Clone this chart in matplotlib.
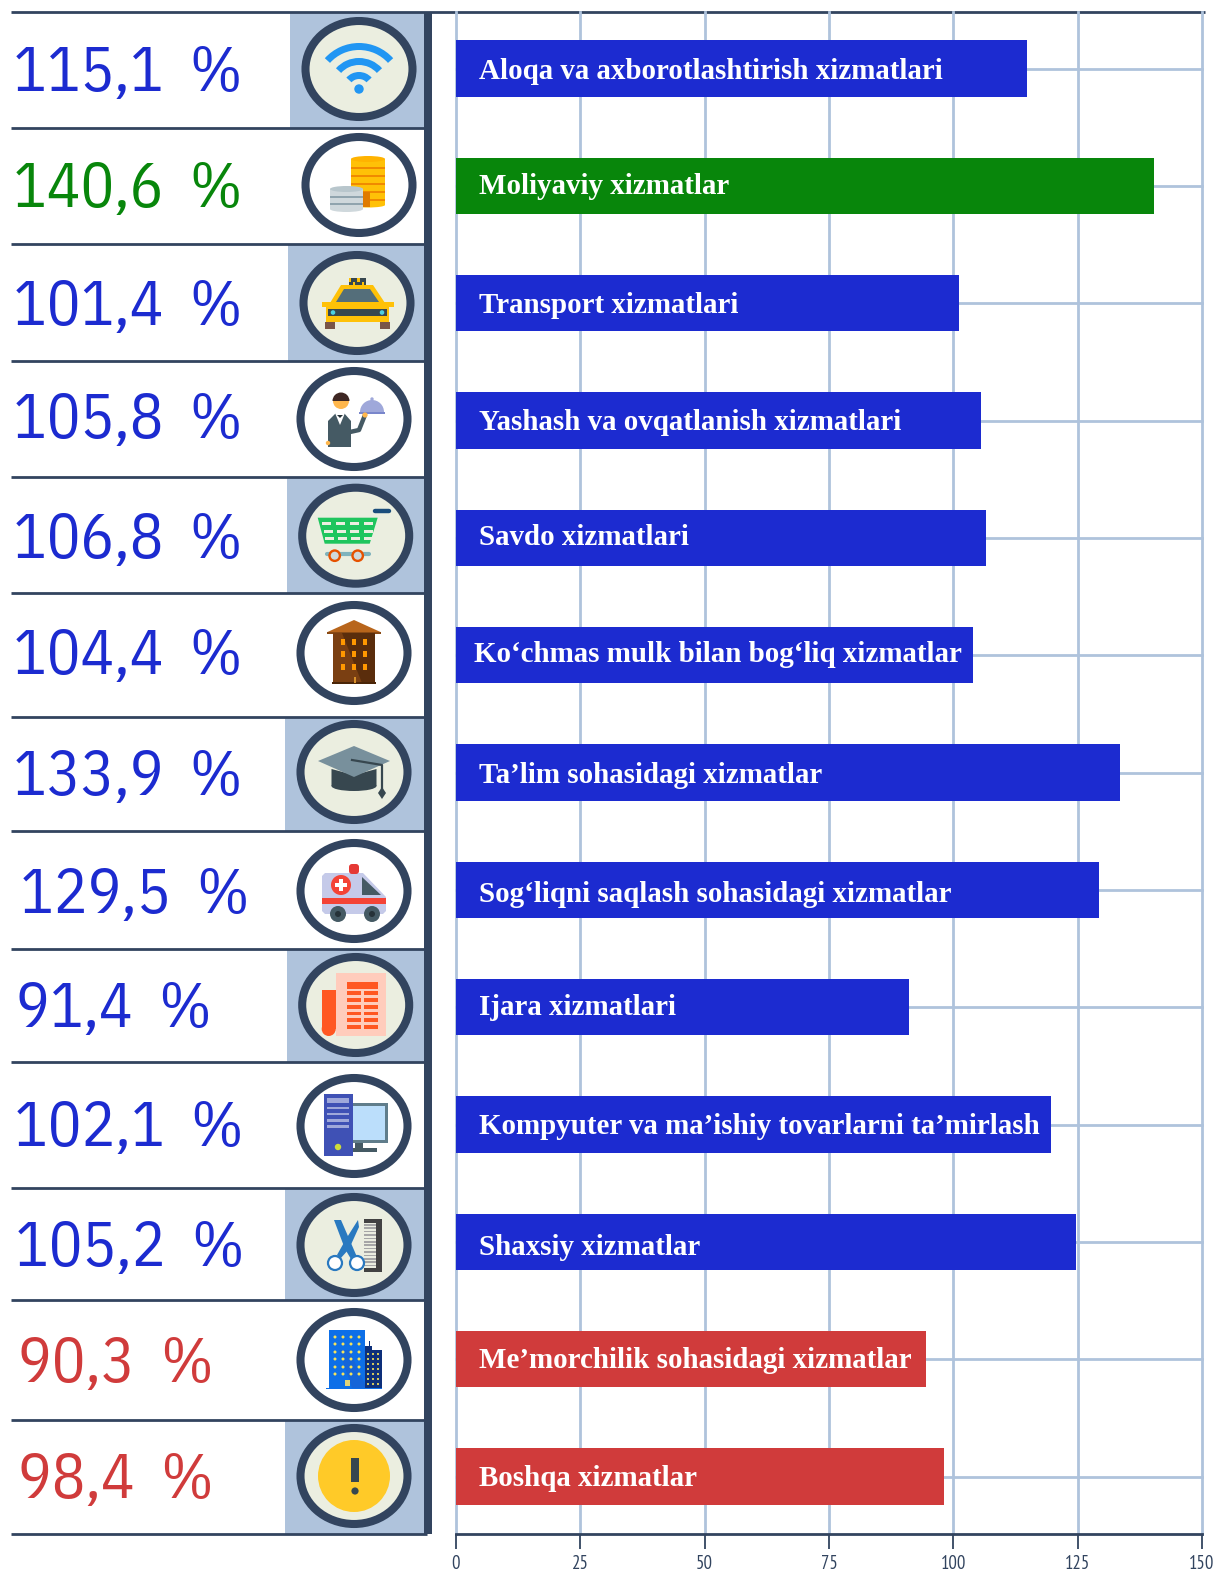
import numpy as np
from matplotlib import pyplot as plt
from matplotlib.patches import Circle, Ellipse, Polygon, Rectangle, Wedge, FancyBboxPatch

# Data
categories = ["Aloqa va axborotlashtirish xizmatlari", "Moliyaviy xizmatlar", "Transport xizmatlari",
              "Yashash va ovqatlanish xizmatlari", "Savdo xizmatlari", "Ko‘chmas mulk bilan bog‘liq xizmatlar",
              "Ta’lim sohasidagi xizmatlar", "Sog‘liqni saqlash sohasidagi xizmatlar", "Ijara xizmatlari",
              "Kompyuter va ma’ishiy tovarlarni ta’mirlash", "Shaxsiy xizmatlar",
              "Me’morchilik sohasidagi xizmatlar", "Boshqa xizmatlar"]
bar_values = [114.8, 140.3, 101.1, 105.5, 106.5, 104.0, 133.5, 129.2, 91.0, 119.6, 124.6, 94.6, 98.1]
percent_labels = ["115,1", "140,6", "101,4", "105,8", "106,8", "104,4", "133,9",
                  "129,5", "91,4", "102,1", "105,2", "90,3", "98,4"]
groups = ["b", "g", "b", "b", "b", "b", "b", "b", "b", "b", "b", "r", "r"]
xticks = [0, 25, 50, 75, 100, 125, 150]

# Colours
group_colors = {"b": "#1c2bd0", "g": "#08860b", "r": "#d03b3b"}
dark = "#32445f"
light = "#afc3dc"
cream = "#ebeee0"

W, H = 1219, 1582
NARROW = ["IBM Plex Sans Condensed", "PT Sans Narrow", "Roboto", "DejaVu Sans"]
TICKFONT = ["PT Sans Narrow", "Roboto", "DejaVu Sans"]

# Layout in pixels, one entry per row
sep_y = [11.5, 127.5, 244, 360.5, 477, 592.7, 716.7, 831, 948.5, 1062, 1188, 1300, 1420, 1534]
shade_x = [290, None, 288, None, 286.5, None, 285, None, 286.5, None, 285, None, 285]
circle_xy = [(359, 69), (359, 185), (357, 303), (354, 419), (355.7, 535.7), (354, 653), (354, 772),
             (354, 891), (355.7, 1005), (354, 1126), (354, 1245), (354, 1360), (354, 1476)]
text_x = [13, 13, 13, 13, 13, 13, 13, 20, 16, 14, 15, 18, 18]
text_y = [90.7, 207, 324.7, 438, 558, 674, 795, 913, 1027, 1146, 1266, 1382, 1498]
label_dy = [3, 1, 2, 2, 0, -1, 3, 5, 0, 2, 6, 1, 2]

fig = plt.figure(figsize=(W/100, H/100), dpi=100)

# Background axes in pixel coordinates for the left panel
bg = fig.add_axes([0, 0, 1, 1])
bg.set_xlim(0, W)
bg.set_ylim(H, 0)
bg.axis("off")


def rect(cx, cy, x0, y0, x1, y1, color, z=5):
    bg.add_patch(Rectangle((cx+x0, cy+y0), x1-x0, y1-y0, fc=color, ec="none", zorder=z))


def poly(cx, cy, pts, color, z=5):
    pts = np.array(pts, dtype=float) + [cx, cy]
    bg.add_patch(Polygon(pts, closed=True, fc=color, ec="none", zorder=z))


def circ(cx, cy, x, y, r, color, z=5):
    bg.add_patch(Circle((cx+x, cy+y), r, fc=color, ec="none", zorder=z))


def icon_wifi(cx, cy):
    for r, w in [(46, 7), (31, 7), (17, 7)]:
        bg.add_patch(Wedge((cx, cy+20), r, 222, 318, width=w, fc="#2196f3", ec="none", zorder=5))
    circ(cx, cy, 0, 20, 4.7, "#2196f3")


def icon_coins(cx, cy):
    rect(cx, cy, -8, -26, 26, 20, "#ffc107")
    bg.add_patch(Ellipse((cx+9, cy+20), 34, 5, fc="#ffc107", zorder=5))
    bg.add_patch(Ellipse((cx+9, cy-26), 34, 6, fc="#ffb300", zorder=6))
    for dy in [-18, -10, -2, 6, 14]:
        rect(cx, cy, -8, dy, 26, dy+1.6, "#f08a00", 6)
    rect(cx, cy, 4, 7, 11, 22, "#e07b00", 7)
    rect(cx, cy, -29, 4, 4, 24, "#cfd8dc", 8)
    bg.add_patch(Ellipse((cx-12.5, cy+24), 33, 6, fc="#cfd8dc", zorder=8))
    bg.add_patch(Ellipse((cx-12.5, cy+4), 33, 6, fc="#b8c6cc", zorder=9))
    for dy in [11, 18]:
        rect(cx, cy, -29, dy, 4, dy+1.8, "#90a4ae", 9)


def icon_taxi(cx, cy):
    poly(cx, cy, [(-27, 0), (-16, -18), (16, -18), (28, 0)], "#ffc107")
    poly(cx, cy, [(-21, -1), (-13, -14), (13, -14), (22, -1)], "#546e7a", 6)
    rect(cx, cy, -8, -25, 9, -18, "#37474f")
    for i in range(4):
        rect(cx, cy, -8+i*4.2, -25+(i % 2)*3.5, -5.9+i*4.2, -21.5+(i % 2)*3.5, "#ffc107", 6)
    rect(cx, cy, -35, -1, 37, 4, "#ffc107")
    rect(cx, cy, -31, 3, 32, 19, "#ffc107")
    rect(cx, cy, -29, 6, 30, 13, "#37474f", 6)
    circ(cx, cy, -24, 9.5, 2.3, "#4dd0e1", 7)
    circ(cx, cy, 25, 9.5, 2.3, "#4dd0e1", 7)
    rect(cx, cy, -32, 19, -22, 26, "#795548")
    rect(cx, cy, 23, 19, 33, 26, "#795548")


def icon_waiter(cx, cy):
    poly(cx, cy, [(-26, 2), (-18, -6), (-10, -6), (-3, 2), (-3, 28), (-26, 28)], "#455a64")
    bg.plot([cx-4, cx+5, cx+11], [cy+13, cy+11, cy-4], color="#455a64", lw=3.2, zorder=5,
            solid_capstyle="round")
    poly(cx, cy, [(-19, -6), (-9, -6), (-14, 6)], "white", 6)
    poly(cx, cy, [(-17, -4), (-11, -4), (-14, -1)], "#263238", 7)
    circ(cx, cy, -13, -18, 8, "#ffb74d")
    bg.add_patch(Wedge((cx-13, cy-18), 8.5, 180, 360, fc="#3e2723", ec="none", zorder=6))
    bg.add_patch(Wedge((cx+18, cy-7), 12, 180, 360, fc="#9fa8da", ec="none", zorder=5))
    circ(cx, cy, 18, -20, 1.7, "#9fa8da")
    rect(cx, cy, 5, -7, 31, -5, "#7986cb", 6)
    circ(cx, cy, 11, -4, 2.6, "#ffb74d", 6)
    circ(cx, cy, -26, 24, 2.2, "#ffb74d", 6)


def icon_cart(cx, cy):
    green = "#1fc55e"
    poly(cx, cy, [(-38, -18), (22, -18), (14, 8), (-31, 8)], green)
    for j, dy in enumerate([-14, -6, 1]):
        for i in range(4):
            x0 = -34 + j*1.8 + i*(14 - j*0.6)
            rect(cx, cy, x0, dy, x0+9, dy+3.4, cream, 6)
    bg.plot([cx+19, cx+33], [cy-25, cy-25], color="#1a4d7c", lw=3.2, zorder=6, solid_capstyle="round")
    bg.plot([cx-29, cx+13], [cy+18, cy+18], color="#7fb3bd", lw=3, zorder=5, solid_capstyle="round")
    for x in [-21, 2]:
        bg.add_patch(Circle((cx+x, cy+20), 5.2, fc="#cfd8dc", ec="#e65100", lw=1.7, zorder=7))


def icon_house(cx, cy):
    poly(cx, cy, [(0, -33), (26.5, -21), (-26.5, -21)], "#b8651b")
    rect(cx, cy, -27, -21, 27, -19.5, "#8a4a14")
    rect(cx, cy, -21, -20, 21, 30, "#5a2d0c")
    poly(cx, cy, [(-21, -20), (-12, -20), (8, 30), (-21, 30)], "#7a3f12", 6)
    rect(cx, cy, -22, 29, 22, 31, "#4a2508", 7)
    for x in [-11, 0, 11]:
        for y in [-11, 1, 14]:
            rect(cx, cy, x-2, y-3, x+2, y+3, "#ff9800", 7)
    rect(cx, cy, 0, 24, 2, 30, "#d8902a", 7)


def icon_cap(cx, cy):
    poly(cx, cy, [(-22.5, -3), (0, 3), (22.5, -3), (22.5, 14), (-22.5, 14)], "#37474f")
    bg.add_patch(Ellipse((cx, cy+14), 45, 10, fc="#37474f", zorder=5))
    poly(cx, cy, [(-36, -11), (0, -26), (36, -11), (0, 5)], "#78909c", 6)
    bg.plot([cx-2, cx+28, cx+28], [cy-12, cy-7, cy+17], color="#37474f", lw=1.6, zorder=7)
    poly(cx, cy, [(28, 15), (32, 21), (28, 27), (24, 21)], "#37474f", 7)


def icon_ambulance(cx, cy):
    poly(cx, cy, [(-32, -15), (-29, -18), (9, -18), (32, 6), (32, 20), (29, 23), (-29, 23), (-32, 20)], "#c5cae9")
    poly(cx, cy, [(8, -14), (8, 4), (27, 4)], "#455a64", 6)
    rect(cx, cy, -32, 7, 32, 13, "#f44336", 6)
    circ(cx, cy, -13, -6, 10, "#f44336", 6)
    rect(cx, cy, -19, -8, -7, -4, "white", 7)
    rect(cx, cy, -15, -12, -11, 0, "white", 7)
    bg.add_patch(FancyBboxPatch((cx-5, cy-27), 10, 10, boxstyle="round,pad=0,rounding_size=3",
                                fc="#e53935", ec="none", zorder=5))
    for x in [-16, 18]:
        circ(cx, cy, x, 23, 8, "#455a64", 7)
        circ(cx, cy, x, 23, 3, "#263238", 8)


def icon_news(cx, cy):
    rect(cx, cy, -20, -32, 30, 31, "#ffccbc")
    rect(cx, cy, -34, -15, -20, 24, "#ff5722")
    circ(cx, cy, -27, 24, 7, "#ff5722")
    rect(cx, cy, -9, -23, 22, -16, "#ff5722", 6)
    for dy in [-12, -5, 2, 8.5, 15, 22]:
        rect(cx, cy, -9, dy-1.6, 5, dy+1.6, "#ff5722", 6)
        rect(cx, cy, 8, dy-1.6, 22, dy+1.6, "#ff5722", 6)


def icon_computer(cx, cy):
    rect(cx, cy, -1, -23, 34, 17, "#607d8b")
    rect(cx, cy, -1, -20, 31, 13.5, "#bbdefb", 6)
    rect(cx, cy, 1, 17, 9, 22, "#455a64")
    rect(cx, cy, -1, 22, 23, 26, "#455a64")
    rect(cx, cy, -30, -32, -1, 30, "#3f51b5", 7)
    rect(cx, cy, -27, -28, -5, -23, "#9fa8da", 8)
    for dy in [-18, -12, -5.5, 0.5]:
        rect(cx, cy, -27, dy-1.2, -5, dy+1.2, "#9fa8da", 8)
    circ(cx, cy, -16, 21, 3.2, "#cddc39", 8)


def icon_scissors(cx, cy):
    blue = "#2979c0"
    rect(cx, cy, 22, -26, 28, 27, "#424242")
    rect(cx, cy, 10, -26, 22, -22, "#424242")
    rect(cx, cy, 10, 23, 22, 27, "#424242")
    for dy in np.arange(-21, 23, 3.4):
        rect(cx, cy, 10, dy, 22, dy+1.6, "#a6a6a6")
    poly(cx, cy, [(-20, -25), (-13, -25), (0, 5), (3, 12), (-3, 14), (-9, 4)], blue, 6)
    poly(cx, cy, [(4, -25), (5, -18), (-5, 4), (-14, 14), (-17, 10), (-8, -6)], blue, 6)
    for x in [-19, 3]:
        bg.add_patch(Circle((cx+x, cy+18), 7, fc="white", ec=blue, lw=1.6, zorder=7))


def icon_tower(cx, cy):
    rect(cx, cy, -25, -30, 11, 28, "#0d6fe8")
    poly(cx, cy, [(-5, -10), (11, 24), (11, 28), (-2, 28), (-15, -10)], "#1565d8", 5)
    rect(cx, cy, 15, -19, 16, -10, "#0d2f7a")
    rect(cx, cy, 11, -14, 18, -8, "#0d2f7a")
    rect(cx, cy, 11, -10, 28, 28, "#0d2f7a")
    rect(cx, cy, -28, 27.5, 28, 29, "#0d6fe8", 6)
    for x in [-19, -11, -3, 5]:
        for y in [-23, -16, -8, -1, 7, 14]:
            circ(cx, cy, x, y, 1.5, "#f5e35a", 6)
    for x in [14, 19, 24]:
        for y in np.arange(-6, 25, 5):
            circ(cx, cy, x, y, 1.05, "#f5e35a", 6)
    rect(cx, cy, -9.5, 20, -4.5, 26, "#e0d47a", 6)


def icon_warning(cx, cy):
    circ(cx, cy, 0, 0, 36, "#ffca28")
    rect(cx, cy, -3, -18, 5, 5.5, "#37474f", 6)
    circ(cx, cy, 1, 15, 3.6, "#37474f", 6)


icons = [icon_wifi, icon_coins, icon_taxi, icon_waiter, icon_cart, icon_house, icon_cap,
         icon_ambulance, icon_news, icon_computer, icon_scissors, icon_tower, icon_warning]

# Left panel: shaded cells, separators, circles, percent texts
for i in range(len(categories)):
    shaded = shade_x[i] is not None
    if shaded:
        bg.add_patch(Rectangle((shade_x[i], sep_y[i]), 424-shade_x[i], sep_y[i+1]-sep_y[i],
                               fc=light, ec="none", zorder=1))
    cx, cy = circle_xy[i]
    bg.add_patch(Ellipse((cx, cy), 107, 96, fc=cream if shaded else "white", ec=dark, lw=5.8, zorder=3))
    icons[i](cx, cy)
    bg.text(text_x[i], text_y[i], percent_labels[i] + "  %", color=group_colors[groups[i]],
            fontsize=45, family=NARROW, ha="left", va="baseline", zorder=4)

for y in sep_y[1:]:
    bg.plot([11, 427 if y == sep_y[-1] else 424], [y, y], color=dark, lw=2, zorder=2, solid_capstyle="butt")
bg.plot([11, 1205], [sep_y[0], sep_y[0]], color=dark, lw=2, zorder=6, solid_capstyle="butt")
bg.add_patch(Rectangle((424, sep_y[0]), 8, sep_y[-1]-sep_y[0], fc=dark, ec="none", zorder=2))

# Bar chart on the right
ax = fig.add_axes([456/W, 1-1534/H, (1202-456)/W, (1534-11.5)/H])
ax.patch.set_alpha(0)
y_pos = np.arange(len(categories))
ax.barh(y_pos, bar_values, height=0.48, color=[group_colors[g] for g in groups], zorder=3)
for i in y_pos:
    ax.text(4.6 if i != 5 else 3.7, i + label_dy[i]/117.3, categories[i], color="white", fontsize=20.9,
            fontweight="bold", family="Liberation Serif", ha="left", va="center", zorder=4)
ax.set_xlim(0, 150)
ax.set_ylim(12.49, -0.487)
ax.set_yticks(y_pos)
ax.set_xticks(xticks)
ax.grid(True, color=light, lw=2)
ax.set_axisbelow(True)
for line in ax.get_xgridlines() + ax.get_ygridlines():
    line.set_clip_on(False)
for s in ["top", "right", "left"]:
    ax.spines[s].set_visible(False)
ax.spines["bottom"].set_color(dark)
ax.spines["bottom"].set_linewidth(2)
ax.tick_params(axis="y", length=0, labelleft=False)
ax.tick_params(axis="x", length=11, width=1.3, color=dark, labelcolor=dark, pad=4)
for lab in ax.get_xticklabels():
    lab.set_family(TICKFONT)
    lab.set_fontsize(13.5)

fig.savefig("out.png", dpi=100)
